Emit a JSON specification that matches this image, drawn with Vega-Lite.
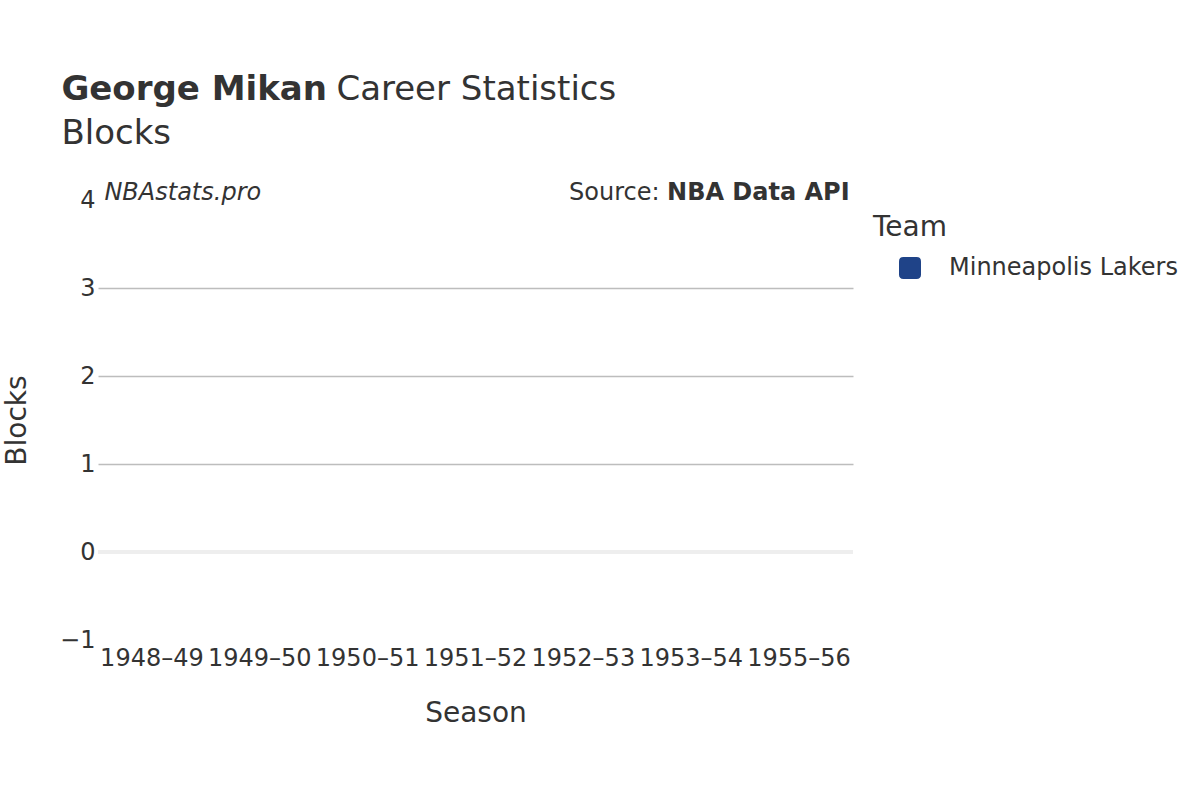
{
  "$schema": "https://vega.github.io/schema/vega-lite/v6.json",
  "width": 755,
  "height": 440,
  "padding": {"left": 3, "top": 72, "right": 5, "bottom": 10},
  "background": "white",
  "config": {
    "font": "DejaVu Sans",
    "view": {"stroke": null},
    "axis": {"labelColor": "#333333", "titleColor": "#333333", "labelFontSize": 24, "titleFontSize": 28, "titleFontWeight": "normal", "ticks": false, "domain": false}
  },
  "datasets": {
    "seasons": [
      {"Season": "1948–49", "Team": "Minneapolis Lakers", "Blocks": 0},
      {"Season": "1949–50", "Team": "Minneapolis Lakers", "Blocks": 0},
      {"Season": "1950–51", "Team": "Minneapolis Lakers", "Blocks": 0},
      {"Season": "1951–52", "Team": "Minneapolis Lakers", "Blocks": 0},
      {"Season": "1952–53", "Team": "Minneapolis Lakers", "Blocks": 0},
      {"Season": "1953–54", "Team": "Minneapolis Lakers", "Blocks": 0},
      {"Season": "1955–56", "Team": "Minneapolis Lakers", "Blocks": 0}
    ]
  },
  "layer": [
    {
      "data": {"name": "seasons"},
      "mark": {"type": "bar"},
      "encoding": {
        "x": {
          "field": "Season",
          "type": "nominal",
          "sort": null,
          "title": "Season",
          "axis": {"labelAngle": 0, "labelPadding": 6, "titlePadding": 29}
        },
        "y": {
          "field": "Blocks",
          "type": "quantitative",
          "title": "Blocks",
          "scale": {"domain": [-1, 4], "nice": false, "zero": false},
          "axis": {
            "values": [-1, 0, 1, 2, 3, 4],
            "format": "d",
            "labelPadding": 3,
            "titlePadding": 28,
            "grid": true,
            "gridColor": "#bdbdbd",
            "gridWidth": 1.5,
            "gridOpacity": {"condition": {"test": "datum.value >= 1 && datum.value <= 3", "value": 1}, "value": 0}
          }
        },
        "color": {
          "field": "Team",
          "type": "nominal",
          "title": "Team",
          "scale": {"range": ["#1f4388"]},
          "legend": {
            "titleFontSize": 28,
            "titleFontWeight": "normal",
            "titleColor": "#333333",
            "titlePadding": 14,
            "labelFontSize": 24,
            "labelColor": "#333333",
            "labelLimit": 400,
            "symbolType": "M -0.6 -1 L 0.6 -1 Q 1 -1 1 -0.6 L 1 0.6 Q 1 1 0.6 1 L -0.6 1 Q -1 1 -1 0.6 L -1 -0.6 Q -1 -1 -0.6 -1 Z",
            "symbolSize": 484,
            "symbolOpacity": 1,
            "symbolOffset": 25,
            "labelOffset": 27,
            "offset": 6,
            "padding": 14
          }
        }
      }
    },
    {
      "data": {"values": [{}]},
      "mark": {"type": "rule", "stroke": "#eeeeee", "strokeWidth": 4},
      "encoding": {"y": {"datum": 0}}
    },
    {
      "data": {"values": [{"label": "NBAstats.pro"}]},
      "mark": {"type": "text", "align": "left", "baseline": "middle", "fontSize": 24, "fontStyle": "italic", "color": "#333333", "dx": 1, "dy": -7},
      "encoding": {
        "x": {"datum": "1948–49", "bandPosition": 0},
        "y": {"datum": 4},
        "text": {"field": "label"}
      }
    },
    {
      "data": {"values": [{"label": "NBA Data API"}]},
      "mark": {"type": "text", "align": "right", "baseline": "middle", "fontSize": 24, "fontWeight": "bold", "color": "#333333", "dx": 2, "dy": -7},
      "encoding": {
        "x": {"datum": "1955–56", "bandPosition": 1},
        "y": {"datum": 4},
        "text": {"field": "label"}
      }
    },
    {
      "data": {"values": [{"label": "Source:"}]},
      "mark": {"type": "text", "align": "right", "baseline": "middle", "fontSize": 24, "color": "#333333", "dx": -188, "dy": -7},
      "encoding": {
        "x": {"datum": "1955–56", "bandPosition": 1},
        "y": {"datum": 4},
        "text": {"field": "label"}
      }
    },
    {
      "data": {"values": [{"label": "George Mikan", "line": 5.142}]},
      "mark": {"type": "text", "align": "left", "baseline": "alphabetic", "fontSize": 34, "fontWeight": "bold", "color": "#333333", "dx": -42},
      "encoding": {
        "x": {"datum": "1948–49", "bandPosition": 0},
        "y": {"field": "line", "type": "quantitative"},
        "text": {"field": "label"}
      }
    },
    {
      "data": {"values": [{"label": "Blocks", "line": 4.642}]},
      "mark": {"type": "text", "align": "left", "baseline": "alphabetic", "fontSize": 34, "color": "#333333", "dx": -42},
      "encoding": {
        "x": {"datum": "1948–49", "bandPosition": 0},
        "y": {"field": "line", "type": "quantitative"},
        "text": {"field": "label"}
      }
    },
    {
      "data": {"values": [{"label": "Career Statistics", "line": 5.142}]},
      "mark": {"type": "text", "align": "left", "baseline": "alphabetic", "fontSize": 34, "color": "#333333", "dx": 233},
      "encoding": {
        "x": {"datum": "1948–49", "bandPosition": 0},
        "y": {"field": "line", "type": "quantitative"},
        "text": {"field": "label"}
      }
    }
  ]
}
